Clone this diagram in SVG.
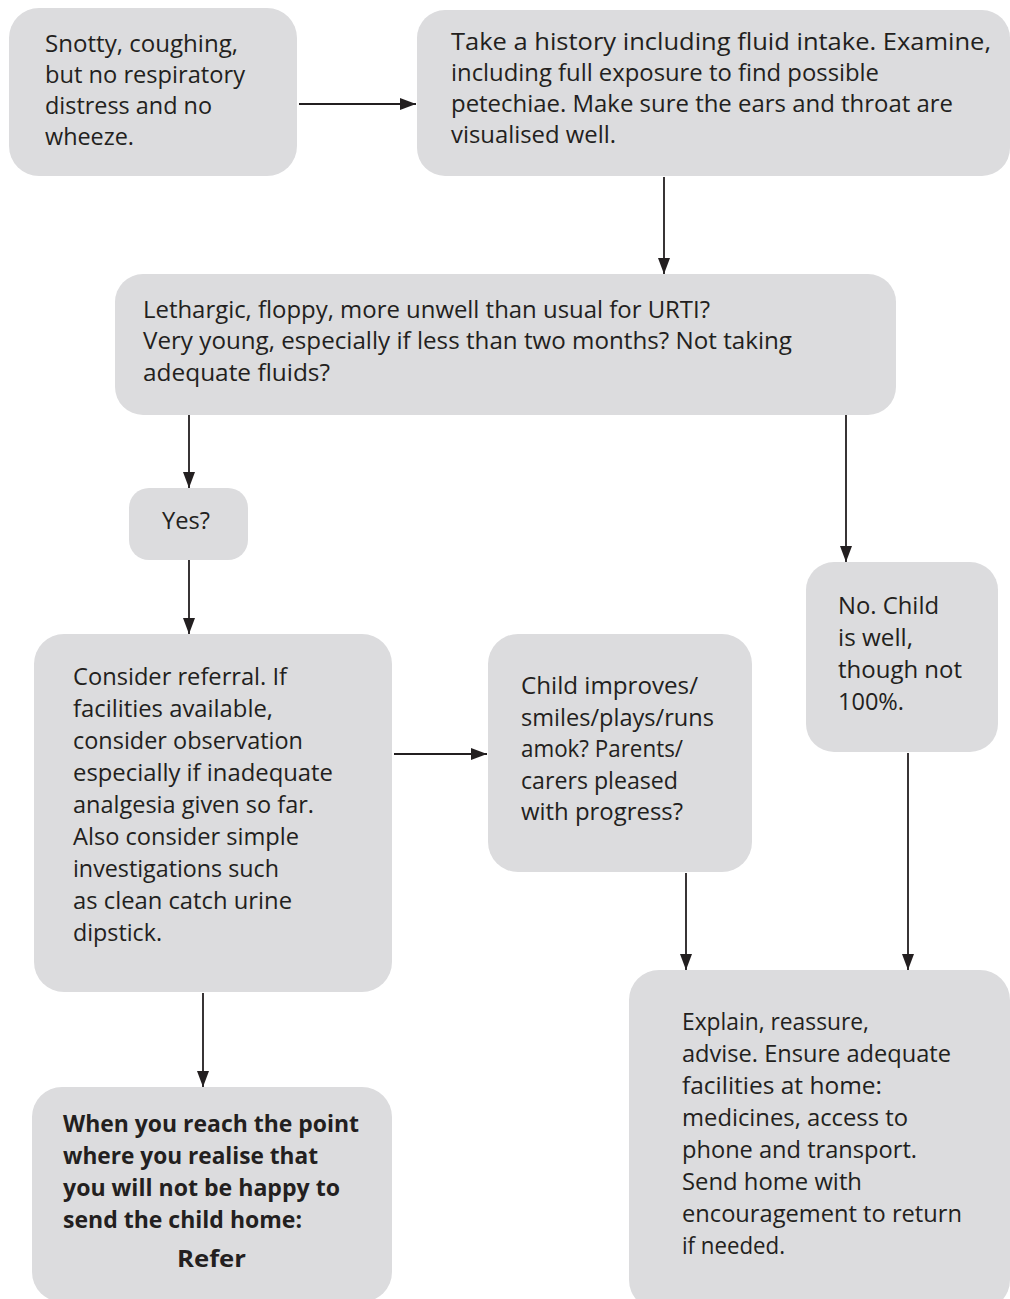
<svg xmlns="http://www.w3.org/2000/svg" width="1010" height="1299" viewBox="0 0 1010 1299">
  <defs>
    <marker id="arrow" viewBox="0 0 16 12" refX="16" refY="6" markerWidth="16" markerHeight="12" markerUnits="userSpaceOnUse" orient="auto">
      <path d="M0,0 L16,6 L0,12 Z" fill="#231f20"/>
    </marker>
  </defs>
  <style>
    .box { fill: #dcdcde; }
    .t { font-family: "Open Sans", "Noto Sans", sans-serif; font-size: 23px; fill: #231f20; }
    .b { font-weight: bold; }
    .link { stroke: #231f20; stroke-width: 1.8; fill: none; marker-end: url(#arrow); }
  </style>
  <rect width="1010" height="1299" fill="#ffffff"/>

  <!-- connectors -->
  <g id="connectors">
    <line class="link" x1="299" y1="104" x2="416" y2="104"/>
    <line class="link" x1="664" y1="177" x2="664" y2="274"/>
    <line class="link" x1="189" y1="415" x2="189" y2="488"/>
    <line class="link" x1="846" y1="415" x2="846" y2="562"/>
    <line class="link" x1="189" y1="560" x2="189" y2="634"/>
    <line class="link" x1="394" y1="754" x2="487" y2="754"/>
    <line class="link" x1="686" y1="873" x2="686" y2="970"/>
    <line class="link" x1="908" y1="753" x2="908" y2="970"/>
    <line class="link" x1="203" y1="993" x2="203" y2="1087"/>
  </g>

  <!-- symptoms -->
  <g id="symptoms">
    <rect class="box" x="9" y="8" width="288" height="168" rx="30"/>
    <text class="t" x="45" y="52" textLength="193" lengthAdjust="spacingAndGlyphs">Snotty, coughing,</text>
    <text class="t" x="45" y="83" textLength="200" lengthAdjust="spacingAndGlyphs">but no respiratory</text>
    <text class="t" x="45" y="114" textLength="167" lengthAdjust="spacingAndGlyphs">distress and no</text>
    <text class="t" x="45" y="145" textLength="89" lengthAdjust="spacingAndGlyphs">wheeze.</text>
  </g>

  <!-- history and examination -->
  <g id="history">
    <rect class="box" x="417" y="10" width="593" height="166" rx="28"/>
    <text class="t" x="451" y="50" textLength="540" lengthAdjust="spacingAndGlyphs">Take a history including fluid intake. Examine,</text>
    <text class="t" x="451" y="81" textLength="428" lengthAdjust="spacingAndGlyphs">including full exposure to find possible</text>
    <text class="t" x="451" y="112" textLength="502" lengthAdjust="spacingAndGlyphs">petechiae. Make sure the ears and throat are</text>
    <text class="t" x="451" y="143" textLength="165" lengthAdjust="spacingAndGlyphs">visualised well.</text>
  </g>

  <!-- warning signs question -->
  <g id="question">
    <rect class="box" x="115" y="274" width="781" height="141" rx="28"/>
    <text class="t" x="143" y="318" textLength="567" lengthAdjust="spacingAndGlyphs">Lethargic, floppy, more unwell than usual for URTI?</text>
    <text class="t" x="143" y="349" textLength="649" lengthAdjust="spacingAndGlyphs">Very young, especially if less than two months? Not taking</text>
    <text class="t" x="143" y="381" textLength="187" lengthAdjust="spacingAndGlyphs">adequate fluids?</text>
  </g>

  <!-- yes branch -->
  <g id="yes">
    <rect class="box" x="129" y="488" width="119" height="72" rx="20"/>
    <text class="t" x="162" y="529" textLength="48" lengthAdjust="spacingAndGlyphs">Yes?</text>
  </g>

  <!-- consider referral -->
  <g id="consider">
    <rect class="box" x="34" y="634" width="358" height="358" rx="30"/>
    <text class="t" x="73" y="685" textLength="214" lengthAdjust="spacingAndGlyphs">Consider referral. If</text>
    <text class="t" x="73" y="717" textLength="200" lengthAdjust="spacingAndGlyphs">facilities available,</text>
    <text class="t" x="73" y="749" textLength="230" lengthAdjust="spacingAndGlyphs">consider observation</text>
    <text class="t" x="73" y="781" textLength="260" lengthAdjust="spacingAndGlyphs">especially if inadequate</text>
    <text class="t" x="73" y="813" textLength="241" lengthAdjust="spacingAndGlyphs">analgesia given so far.</text>
    <text class="t" x="73" y="845" textLength="226" lengthAdjust="spacingAndGlyphs">Also consider simple</text>
    <text class="t" x="73" y="877" textLength="206" lengthAdjust="spacingAndGlyphs">investigations such</text>
    <text class="t" x="73" y="909" textLength="219" lengthAdjust="spacingAndGlyphs">as clean catch urine</text>
    <text class="t" x="73" y="941" textLength="89" lengthAdjust="spacingAndGlyphs">dipstick.</text>
  </g>

  <!-- improvement check -->
  <g id="improves">
    <rect class="box" x="488" y="634" width="264" height="238" rx="30"/>
    <text class="t" x="521" y="694" textLength="177" lengthAdjust="spacingAndGlyphs">Child improves/</text>
    <text class="t" x="521" y="726" textLength="193" lengthAdjust="spacingAndGlyphs">smiles/plays/runs</text>
    <text class="t" x="521" y="757" textLength="162" lengthAdjust="spacingAndGlyphs">amok? Parents/</text>
    <text class="t" x="521" y="789" textLength="157" lengthAdjust="spacingAndGlyphs">carers pleased</text>
    <text class="t" x="521" y="820" textLength="162" lengthAdjust="spacingAndGlyphs">with progress?</text>
  </g>

  <!-- no branch -->
  <g id="no">
    <rect class="box" x="806" y="562" width="192" height="190" rx="28"/>
    <text class="t" x="838" y="614" textLength="101" lengthAdjust="spacingAndGlyphs">No. Child</text>
    <text class="t" x="838" y="646" textLength="75" lengthAdjust="spacingAndGlyphs">is well,</text>
    <text class="t" x="838" y="678" textLength="124" lengthAdjust="spacingAndGlyphs">though not</text>
    <text class="t" x="838" y="710" textLength="66" lengthAdjust="spacingAndGlyphs">100%.</text>
  </g>

  <!-- send home -->
  <g id="home">
    <rect class="box" x="629" y="970" width="381" height="340" rx="30"/>
    <text class="t" x="682" y="1030" textLength="187" lengthAdjust="spacingAndGlyphs">Explain, reassure,</text>
    <text class="t" x="682" y="1062" textLength="269" lengthAdjust="spacingAndGlyphs">advise. Ensure adequate</text>
    <text class="t" x="682" y="1094" textLength="200" lengthAdjust="spacingAndGlyphs">facilities at home:</text>
    <text class="t" x="682" y="1126" textLength="226" lengthAdjust="spacingAndGlyphs">medicines, access to</text>
    <text class="t" x="682" y="1158" textLength="235" lengthAdjust="spacingAndGlyphs">phone and transport.</text>
    <text class="t" x="682" y="1190" textLength="180" lengthAdjust="spacingAndGlyphs">Send home with</text>
    <text class="t" x="682" y="1222" textLength="280" lengthAdjust="spacingAndGlyphs">encouragement to return</text>
    <text class="t" x="682" y="1254" textLength="103" lengthAdjust="spacingAndGlyphs">if needed.</text>
  </g>

  <!-- refer -->
  <g id="refer">
    <rect class="box" x="32" y="1087" width="360" height="215" rx="30"/>
    <text class="t b" x="63" y="1132" textLength="296" lengthAdjust="spacingAndGlyphs">When you reach the point</text>
    <text class="t b" x="63" y="1164" textLength="255" lengthAdjust="spacingAndGlyphs">where you realise that</text>
    <text class="t b" x="63" y="1196" textLength="277" lengthAdjust="spacingAndGlyphs">you will not be happy to</text>
    <text class="t b" x="63" y="1228" textLength="239" lengthAdjust="spacingAndGlyphs">send the child home:</text>
    <text class="t b" x="177" y="1267" font-size="27" textLength="69" lengthAdjust="spacingAndGlyphs">Refer</text>
  </g>
</svg>
